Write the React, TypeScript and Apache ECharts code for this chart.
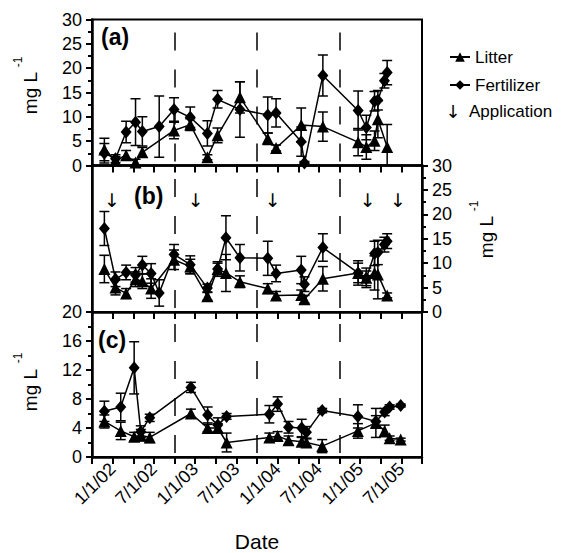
import React, { useEffect, useRef } from "react";
import * as echarts from "echarts";

// ---------- data ----------
// sampling dates shared by panels (a) and (b)
const abDates = [
  "2001-11-25", "2002-01-14", "2002-02-28", "2002-04-11", "2002-05-11", "2002-06-19",
  "2002-07-25", "2002-09-29", "2002-12-10", "2003-02-23", "2003-04-09", "2003-05-16",
  "2003-07-17", "2003-11-18", "2003-12-25", "2004-04-14", "2004-04-28", "2004-07-19",
  "2004-12-23", "2005-01-29", "2005-03-04", "2005-03-19", "2005-04-17", "2005-04-29",
];
// panel (a)
const litterA = [3.3, 1.0, 2.1, 0.6, 2.7, null, null, 7.2, 8.4, 1.7, 6.2, null, 14.0, 5.5, 3.6, 8.3, null, 8.0, 4.8, 3.8, 5.1, 9.5, null, 3.8];
const litterAErr = [2.3, 0.8, 1.0, 0.7, 1.0, 0, 0, 1.7, 1.2, 0.5, 1.5, 0, 3.2, 1.2, 0.6, 3.5, 0, 3.0, 2.8, 2.5, 2.0, 3.8, 0, 4.6];
const fertA = [2.5, 1.4, 6.9, 8.9, 7.0, null, 8.0, 11.5, 9.9, 6.6, 13.6, null, 11.5, 10.4, 10.8, 4.9, 0.5, 18.5, 11.3, 7.8, 13.2, 13.4, 17.4, 19.1];
const fertAErr = [2.0, 0.8, 2.2, 4.8, 3.0, 0, 6.3, 2.4, 2.1, 2.6, 1.8, 0, 5.7, 3.7, 2.9, 3.0, 0.3, 4.2, 4.0, 2.5, 2.0, 2.0, 1.5, 2.5];
// panel (b)
const litterB = [8.8, 5.0, 3.8, 6.7, 6.3, 4.8, null, 10.7, 9.3, 3.2, 8.8, 8.0, 6.2, 4.8, 3.4, 3.5, 2.6, 6.8, 8.0, 7.0, 8.0, 7.7, null, 3.4];
const litterBErr = [2.8, 1.5, 1.0, 1.5, 1.5, 2.0, 0, 2.0, 1.5, 0.8, 1.5, 3.8, 1.2, 1.0, 0.8, 1.0, 0.8, 2.5, 2.0, 2.0, 3.5, 5.0, 0, 0.5];
const fertB = [17.1, 6.7, 8.1, 7.6, 9.6, 7.9, 3.9, 11.8, 9.7, 4.9, 8.8, 15.2, 11.1, 11.0, 7.9, 8.6, 5.7, 13.2, 8.0, 6.9, 12.0, 12.2, 13.8, 14.5];
const fertBErr = [3.5, 1.5, 1.5, 1.5, 1.8, 2.0, 2.7, 2.0, 1.8, 0.8, 1.2, 4.5, 2.7, 3.5, 1.7, 2.8, 1.5, 2.8, 2.5, 1.5, 2.5, 2.5, 1.5, 1.5];
// panel (c)
const cDates = [
  "2001-11-25", "2002-02-06", "2002-04-05", "2002-05-04", "2002-06-13", "2002-12-13",
  "2003-02-24", "2003-04-10", "2003-05-19", "2003-11-25", "2004-01-01", "2004-02-18",
  "2004-04-16", "2004-05-07", "2004-07-16", "2004-12-22", "2005-03-10", "2005-04-18",
  "2005-05-10", "2005-06-28",
];
const litterC = [4.9, 3.6, 2.8, 3.0, 2.7, 6.0, 4.0, 4.0, 2.0, 2.7, 2.9, 2.3, 2.1, 2.0, 1.5, 3.6, 4.7, 3.6, 2.6, 2.4];
const litterCErr = [0.9, 1.2, 0.6, 0.8, 0.7, 0.6, 0.5, 0.6, 1.3, 0.6, 0.6, 0.6, 0.6, 0.5, 0.9, 1.0, 2.0, 0.8, 0.3, 0.2];
const fertC = [6.3, 6.9, 12.3, 3.5, 5.4, 9.6, 5.8, 4.4, 5.6, 5.9, 7.3, 4.1, 4.0, 3.4, 6.4, 5.6, 4.9, 6.2, 6.9, 7.1];
const fertCErr = [1.4, 1.9, 3.6, 0.8, 0.5, 0.7, 1.1, 1.0, 0.4, 1.2, 1.0, 0.8, 1.2, 0.8, 0.3, 1.6, 0.8, 0.5, 0.3, 0.2];
// application events (arrows in panel b)
const applicationDates = ["2001-12-29", "2003-01-04", "2003-12-10", "2005-02-04", "2005-06-16"];
const applicationLevel = 22.9;
// water-year boundaries (dashed lines)
const waterYearStarts = ["2002-10-01", "2003-10-01", "2004-10-01"];
// x tick labels (every 6 months starting 1/1/02)
const xTickLabels = ["1/1/02", "7/1/02", "1/1/03", "7/1/03", "1/1/04", "7/1/04", "1/1/05", "7/1/05"];

// ---------- helpers ----------
const FONT = "'Liberation Sans', Arial, Helvetica, sans-serif";
const ARROW_FONT = "'DejaVu Sans', 'Liberation Sans', sans-serif";

function toMonths(d: string): number {
  const [y, m, day] = d.split("-").map(Number);
  const dim = new Date(y, m, 0).getDate();
  return (y - 2001) * 12 + (m - 10) + (day - 1) / dim;
}

function buildData(dates: string[], vals: (number | null)[], errs: number[]) {
  const out: number[][] = [];
  dates.forEach((d, i) => {
    const v = vals[i];
    if (v !== null && v !== undefined) out.push([toMonths(d), v, errs[i]]);
  });
  return out;
}

const errorBarRender = (params: any, api: any) => {
  const x = api.value(0);
  const y = api.value(1);
  const e = api.value(2);
  if (!e) return { type: "group", children: [] };
  const top = api.coord([x, y + e]);
  const bot = api.coord([x, y - e]);
  const hw = 5;
  const style = { stroke: "#000", lineWidth: 1.5 };
  return {
    type: "group",
    children: [
      { type: "line", shape: { x1: top[0], y1: top[1], x2: bot[0], y2: bot[1] }, style },
      { type: "line", shape: { x1: top[0] - hw, y1: top[1], x2: top[0] + hw, y2: top[1] }, style },
      { type: "line", shape: { x1: bot[0] - hw, y1: bot[1], x2: bot[0] + hw, y2: bot[1] }, style },
    ],
  };
};

const arrowRender = (params: any, api: any) => {
  const p = api.coord([api.value(0), api.value(1)]);
  return {
    type: "text",
    x: p[0],
    y: p[1],
    style: { text: "↓", fontSize: 19, fill: "#000", fontFamily: ARROW_FONT, align: "center", verticalAlign: "middle" },
  };
};

const dashedLines = {
  silent: true,
  symbol: ["none", "none"],
  label: { show: false },
  lineStyle: { color: "#000", width: 1.5, type: [18, 19] as any, dashOffset: 33 },
  data: waterYearStarts.map((d) => ({ xAxis: toMonths(d) })),
};

function panelSeries(
  xi: number,
  yi: number,
  dates: string[],
  litter: (number | null)[],
  litterErr: number[],
  fert: (number | null)[],
  fertErr: number[]
) {
  const lData = buildData(dates, litter, litterErr);
  const fData = buildData(dates, fert, fertErr);
  return [
    {
      type: "custom",
      name: "errL" + xi,
      xAxisIndex: xi,
      yAxisIndex: yi,
      renderItem: errorBarRender,
      encode: { x: 0, y: 1 },
      data: lData,
      z: 2,
      clip: true,
    },
    {
      type: "custom",
      name: "errF" + xi,
      xAxisIndex: xi,
      yAxisIndex: yi,
      renderItem: errorBarRender,
      encode: { x: 0, y: 1 },
      data: fData,
      z: 2,
      clip: true,
    },
    {
      type: "line",
      name: "Litter",
      xAxisIndex: xi,
      yAxisIndex: yi,
      data: lData.map((p) => [p[0], p[1]]),
      symbol: "triangle",
      symbolSize: 12,
      showAllSymbol: true,
      itemStyle: { color: "#000" },
      lineStyle: { color: "#000", width: 1.5 },
      z: 3,
      markLine: dashedLines,
    },
    {
      type: "line",
      name: "Fertilizer",
      xAxisIndex: xi,
      yAxisIndex: yi,
      data: fData.map((p) => [p[0], p[1]]),
      symbol: "diamond",
      symbolSize: [11, 13],
      showAllSymbol: true,
      itemStyle: { color: "#000" },
      lineStyle: { color: "#000", width: 1.5 },
      z: 4,
    },
  ];
}

function xAxis(gi: number, showLabels: boolean) {
  return {
    type: "value",
    gridIndex: gi,
    min: 0,
    max: 48,
    interval: 3,
    axisLine: { show: true, onZero: false, lineStyle: { color: "#000", width: 2.5 } },
    axisTick: { show: true, inside: false, length: 7, lineStyle: { color: "#000", width: 2 } },
    splitLine: { show: false },
    axisLabel: {
      show: showLabels,
      rotate: 45,
      margin: 9,
      fontSize: 18,
      color: "#000",
      fontFamily: FONT,
      formatter: (v: number) => {
        const r = Math.round(v) - 3;
        if (r < 0 || r % 6 !== 0) return "";
        return xTickLabels[r / 6] ?? "";
      },
    },
    name: showLabels ? "Date" : "",
    nameLocation: "middle",
    nameGap: 74,
    nameTextStyle: { fontSize: 21, color: "#000", fontFamily: FONT },
  };
}

function yAxis(gi: number, max: number, interval: number, position: string, showLabels: boolean, showTicks: boolean) {
  return {
    type: "value",
    gridIndex: gi,
    position,
    min: 0,
    max,
    interval,
    axisLine: { show: true, lineStyle: { color: "#000", width: 2.5 } },
    axisTick: { show: showTicks, inside: false, length: 6, lineStyle: { color: "#000", width: 2 } },
    minorTick: { show: showTicks, splitNumber: 2, length: 4, lineStyle: { color: "#000", width: 2 } },
    splitLine: { show: false },
    axisLabel: { show: showLabels, fontSize: 18, color: "#000", fontFamily: FONT, margin: 10 },
  };
}

function titleText(xc: number, yc: number, xs: number, ys: number) {
  return [
    {
      type: "text",
      x: xc,
      y: yc,
      rotation: Math.PI / 2,
      style: { text: "mg L", fontSize: 19, fill: "#000", fontFamily: FONT, align: "center", verticalAlign: "middle" },
    },
    {
      type: "text",
      x: xs,
      y: ys,
      rotation: Math.PI / 2,
      style: { text: "-1", fontSize: 12, fill: "#000", fontFamily: FONT, align: "center", verticalAlign: "middle" },
    },
  ];
}

export default function App() {
  const ref = useRef<HTMLDivElement>(null);
  useEffect(() => {
    if (!ref.current) return;
    const chart = echarts.init(ref.current, null, { renderer: "svg" });
    const grids = [
      { left: 92, right: 147, top: 19.5, height: 146 },
      { left: 92, right: 147, top: 165.5, height: 146.5 },
      { left: 92, right: 147, top: 312, height: 147 },
    ].map((g) => ({ ...g, show: true, borderColor: "#000", borderWidth: 2, backgroundColor: "transparent", containLabel: false }));

    const option: any = {
      animation: false,
      backgroundColor: "#fff",
      grid: grids,
      xAxis: [xAxis(0, false), xAxis(1, false), xAxis(2, true)],
      yAxis: [
        yAxis(0, 30, 5, "left", true, true),
        yAxis(1, 30, 5, "left", false, false),
        yAxis(1, 30, 5, "right", true, true),
        yAxis(2, 20, 4, "left", true, true),
      ],
      legend: {
        orient: "vertical",
        left: 444,
        top: 42,
        itemWidth: 20,
        itemHeight: 12,
        itemGap: 8,
        data: ["Litter", "Fertilizer"],
        textStyle: { fontSize: 17, color: "#000", fontFamily: FONT, lineHeight: 20 },
      },
      series: [
        ...panelSeries(0, 0, abDates, litterA, litterAErr, fertA, fertAErr),
        ...panelSeries(1, 2, abDates, litterB, litterBErr, fertB, fertBErr),
        ...panelSeries(2, 3, cDates, litterC, litterCErr, fertC, fertCErr),
        {
          type: "custom",
          name: "Application",
          xAxisIndex: 1,
          yAxisIndex: 2,
          renderItem: arrowRender,
          encode: { x: 0, y: 1 },
          data: applicationDates.map((d) => [toMonths(d), applicationLevel]),
          z: 5,
        },
      ],
      graphic: [
        { type: "text", x: 101, y: 37, style: { text: "(a)", fontSize: 23, fontWeight: "bold", fill: "#000", fontFamily: FONT, verticalAlign: "middle" } },
        { type: "text", x: 134, y: 196, style: { text: "(b)", fontSize: 23, fontWeight: "bold", fill: "#000", fontFamily: FONT, verticalAlign: "middle" } },
        { type: "text", x: 98, y: 340, style: { text: "(c)", fontSize: 23, fontWeight: "bold", fill: "#000", fontFamily: FONT, verticalAlign: "middle" } },
        ...titleText(30, 93, 18, 62),
        ...titleText(486, 237, 474, 206),
        ...titleText(30, 390, 18, 358),
        { type: "text", x: 453, y: 111, style: { text: "↓", fontSize: 18, fill: "#000", fontFamily: ARROW_FONT, align: "center", verticalAlign: "middle" } },
        { type: "text", x: 469, y: 111, style: { text: "Application", fontSize: 17, fill: "#000", fontFamily: FONT, verticalAlign: "middle" } },
      ],
    };
    chart.setOption(option);
    return () => chart.dispose();
  }, []);
  return <div ref={ref} style={{ position: "absolute", left: 0, top: 0, width: 569, height: 553 }} />;
}
